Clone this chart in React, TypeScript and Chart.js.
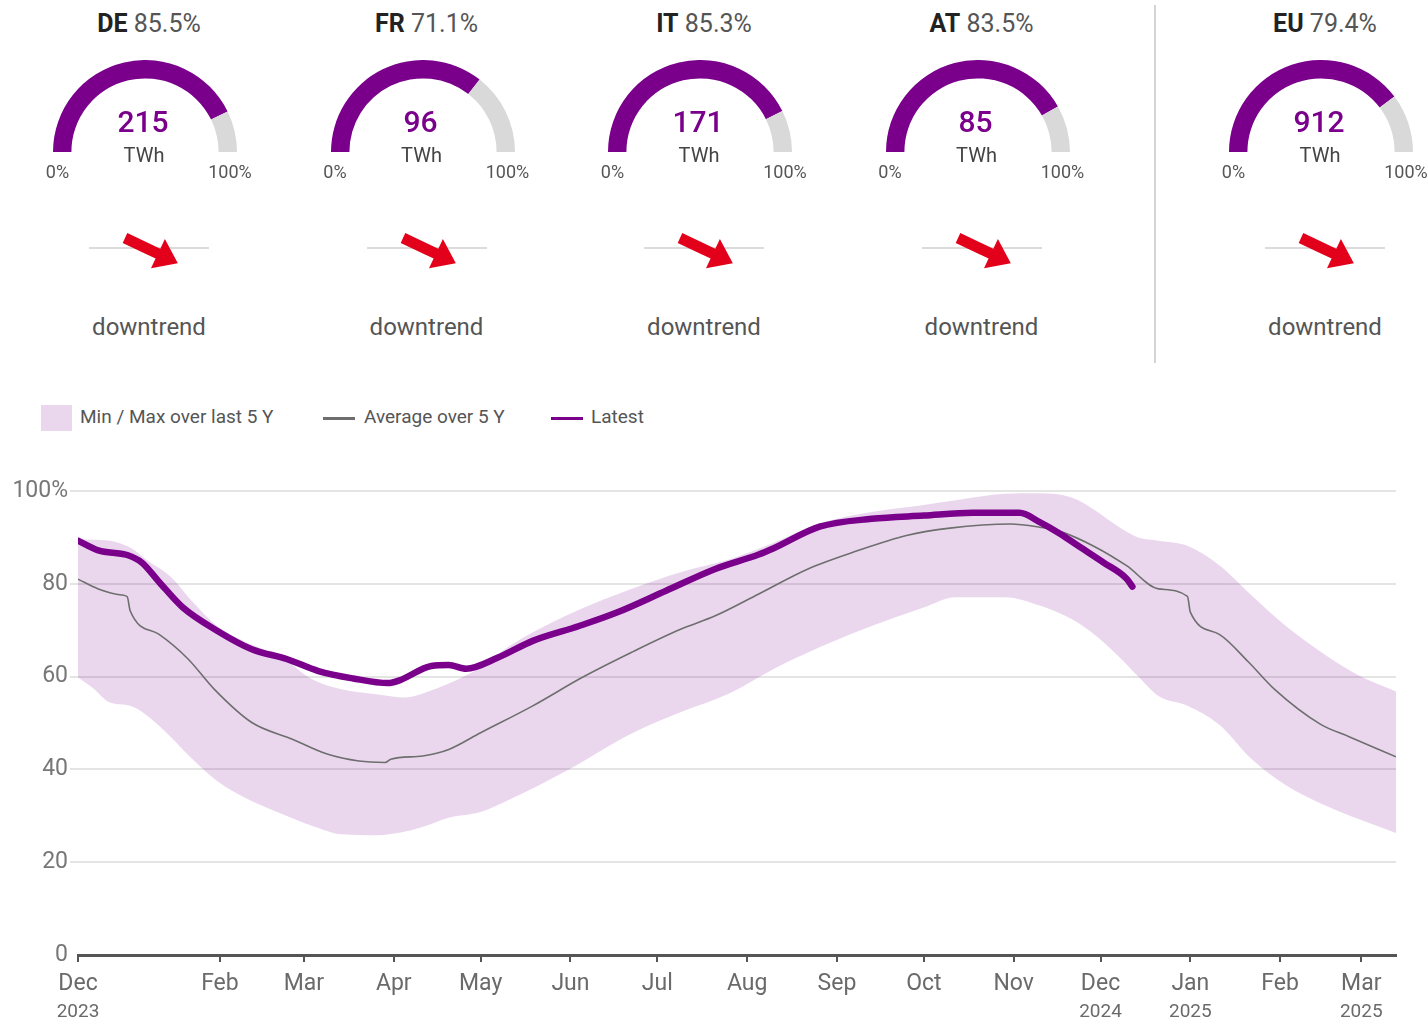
import React, { useEffect, useRef, useState } from "react";
import { Chart, registerables } from "chart.js";

Chart.register(...registerables);

const FONT = "Roboto, 'Noto Sans', Arial, sans-serif";
const PURPLE = "#7a008c";
const GAUGE_GREY = "#d9d9d9";
const BAND_FILL = "rgba(123,0,145,0.155)";
const AVG_COLOR = "#6e6e6e";

// ---------- Gauge panels ----------
const gaugeCountries = ["DE", "FR", "IT", "AT", "EU"];
const gaugeFillPct = [85.5, 71.1, 85.3, 83.5, 79.4];
const gaugeTWh = [215, 96, 171, 85, 912];
const gaugeTrend = ["downtrend", "downtrend", "downtrend", "downtrend", "downtrend"];

// ---------- Main chart data ----------
const START_DATE = "2023-12-14";
const END_DATE = "2025-03-13";

const latestDates = [
  "2023-12-14", "2023-12-21", "2023-12-31", "2024-01-05", "2024-01-11", "2024-01-19",
  "2024-01-31", "2024-02-12", "2024-02-24", "2024-03-06", "2024-03-18", "2024-03-30",
  "2024-04-03", "2024-04-14", "2024-04-20", "2024-04-26", "2024-05-07", "2024-05-19",
  "2024-06-04", "2024-06-17", "2024-07-04", "2024-07-21", "2024-08-05", "2024-08-10",
  "2024-08-26", "2024-09-13", "2024-10-01", "2024-10-18", "2024-11-03", "2024-11-10",
  "2024-11-17", "2024-11-23", "2024-12-02", "2024-12-10", "2024-12-12",
];
const latestValues = [
  89.3, 87.2, 86.2, 84.6, 80.4, 75.0,
  69.9, 65.9, 63.8, 61.2, 59.6, 58.6,
  59.2, 62.3, 62.5, 61.7, 64.1, 67.7,
  70.9, 73.8, 78.5, 83.2, 86.3, 87.6,
  92.3, 94.0, 94.7, 95.3, 95.3, 93.3,
  90.8, 88.3, 84.6, 81.1, 79.4,
];

const avgDates = [
  "2023-12-14", "2023-12-21", "2023-12-29", "2023-12-31", "2024-01-01", "2024-01-11",
  "2024-01-21", "2024-01-30", "2024-02-12", "2024-02-26", "2024-03-09", "2024-03-20",
  "2024-03-29", "2024-03-31", "2024-04-11", "2024-04-20", "2024-05-01", "2024-05-19",
  "2024-06-05", "2024-06-22", "2024-07-09", "2024-07-21", "2024-08-05", "2024-08-22",
  "2024-09-08", "2024-09-25", "2024-10-10", "2024-10-31", "2024-11-10", "2024-11-17",
  "2024-11-29", "2024-12-10", "2024-12-21", "2024-12-31", "2025-01-01", "2025-01-11",
  "2025-01-21", "2025-01-30", "2025-02-15", "2025-02-25", "2025-03-13",
];
const avgValues = [
  81.0, 78.9, 77.6, 77.2, 74.2, 69.1,
  63.8, 57.3, 50.1, 46.5, 43.3, 41.8,
  41.5, 42.2, 42.9, 44.3, 47.9, 53.7,
  59.8, 65.2, 70.2, 73.1, 77.8, 83.2,
  87.1, 90.4, 92.0, 92.9, 92.2, 91.3,
  88.0, 83.9, 78.9, 77.3, 73.9, 69.1,
  63.2, 57.3, 49.7, 47.0, 42.7,
];

const bandDates = [
  "2023-12-14", "2023-12-19", "2023-12-25", "2024-01-01", "2024-01-07", "2024-01-15",
  "2024-01-22", "2024-01-31", "2024-02-10", "2024-02-22", "2024-03-04", "2024-03-14",
  "2024-03-26", "2024-04-05", "2024-04-12", "2024-04-20", "2024-05-01", "2024-05-11",
  "2024-05-30", "2024-06-22", "2024-07-09", "2024-07-26", "2024-08-10", "2024-08-26",
  "2024-09-13", "2024-10-01", "2024-10-12", "2024-10-29", "2024-11-10", "2024-11-21",
  "2024-11-28", "2024-12-07", "2024-12-14", "2024-12-21", "2024-12-31", "2025-01-11",
  "2025-01-22", "2025-02-03", "2025-02-17", "2025-02-28", "2025-03-13",
];
const bandMax = [
  89.6, 89.5, 89.3, 87.8, 85.0, 81.5,
  76.5, 70.9, 67.4, 64.3, 59.4, 57.3,
  56.2, 55.5, 56.6, 58.5, 62.0, 66.6,
  73.0, 78.9, 82.5, 85.3, 88.8, 93.0,
  95.5, 97.0, 98.0, 99.4, 99.5, 98.6,
  96.3, 92.4, 90.0, 89.3, 88.2, 84.0,
  77.6, 70.9, 64.5, 60.3, 56.8,
];
const bandMin = [
  59.8, 57.6, 54.4, 53.7, 51.5, 47.0,
  42.5, 37.5, 33.8, 30.5, 27.8, 26.0,
  25.8, 26.6, 27.8, 29.6, 30.8, 33.5,
  39.5, 47.7, 52.3, 56.4, 61.6, 66.3,
  70.9, 74.9, 77.1, 77.1, 75.3, 72.4,
  69.5, 64.5, 60.0, 55.8, 53.7, 49.6,
  42.3, 36.6, 32.1, 29.3, 26.3,
];

const xTickDates = [
  "2023-12-14", "2024-02-01", "2024-03-01", "2024-04-01", "2024-05-01", "2024-06-01",
  "2024-07-01", "2024-08-01", "2024-09-01", "2024-10-01", "2024-11-01", "2024-12-01",
  "2025-01-01", "2025-02-01", "2025-03-01",
];
const xTickMonths = ["Dec", "Feb", "Mar", "Apr", "May", "Jun", "Jul", "Aug", "Sep", "Oct", "Nov", "Dec", "Jan", "Feb", "Mar"];
const xTickYears = ["2023", "", "", "", "", "", "", "", "", "", "", "2024", "2025", "", "2025"];
const yTicks = [0, 20, 40, 60, 80, 100];

const legendLabels = ["Min / Max over last 5 Y", "Average over 5 Y", "Latest"];

// ---------- helpers ----------
const toUTC = (s: string) => {
  const [y, m, d] = s.split("-").map(Number);
  return Date.UTC(y, m - 1, d);
};
const START_MS = toUTC(START_DATE);
const dayOf = (s: string) => Math.round((toUTC(s) - START_MS) / 86400000);
const pts = (dates: string[], vals: number[]) => dates.map((d, i) => ({ x: dayOf(d), y: vals[i] }));

// ---------- Gauge ----------
function Gauge({ cx, cy, pct }: { cx: number; cy: number; pct: number }) {
  const ref = useRef<HTMLCanvasElement>(null);
  const [err, setErr] = useState("");
  useEffect(() => {
    let chart: any = null;
    try {
      chart = new Chart(ref.current!, {
        type: "doughnut",
        data: {
          labels: ["filled", "empty"],
          datasets: [
            {
              data: [pct, 100 - pct],
              backgroundColor: [PURPLE, GAUGE_GREY],
              borderWidth: 0,
              hoverOffset: 0,
            },
          ],
        },
        options: {
          responsive: false,
          maintainAspectRatio: false,
          animation: false,
          events: [],
          rotation: -90,
          circumference: 180,
          cutout: "80%",
          plugins: { legend: { display: false }, tooltip: { enabled: false } },
        },
      });
    } catch (e: any) {
      setErr(String(e && e.message ? e.message : e));
    }
    return () => {
      if (chart) chart.destroy();
    };
  }, [pct]);
  return (
    <>
      <canvas
        ref={ref}
        width={184}
        height={92}
        style={{ position: "absolute", left: cx - 92, top: cy - 92, width: 184, height: 92 }}
      />
      {err ? (
        <div style={{ position: "absolute", left: cx - 92, top: cy - 40, fontSize: 10, color: "red", width: 180 }}>{err}</div>
      ) : null}
    </>
  );
}

function Txt({ x, top, size, children, color = "#444", weight = 400, align = "center" }: any) {
  const tr = align === "center" ? "translateX(-50%)" : align === "right" ? "translateX(-100%)" : "none";
  return (
    <div
      style={{
        position: "absolute",
        left: x,
        top,
        transform: tr,
        fontSize: size,
        lineHeight: `${size}px`,
        color,
        fontWeight: weight,
        whiteSpace: "nowrap",
        fontFamily: FONT,
      }}
    >
      {children}
    </div>
  );
}

function Arrow({ px }: { px: number }) {
  // down-right arrow, decorative
  const tx = 36, ty = 10;
  const ang = (25.5 * Math.PI) / 180;
  const ux = Math.cos(ang), uy = Math.sin(ang);
  const nx = -uy, ny = ux;
  const shape = [
    [0, -5.4], [36.5, -5.4], [36.5, -16.2], [58.5, 0], [36.5, 16.2], [36.5, 5.4], [0, 5.4],
  ];
  const p = shape.map(([u, v]) => `${(tx + u * ux + v * nx).toFixed(1)},${(ty + u * uy + v * ny).toFixed(1)}`).join(" ");
  return (
    <svg width={120} height={50} style={{ position: "absolute", left: px - 60, top: 228 }}>
      <line x1={0} y1={20} x2={120} y2={20} stroke="#cfcfcf" strokeWidth={1.5} />
      <polygon points={p} fill="#e2001a" />
    </svg>
  );
}

function Panel({ i }: { i: number }) {
  const centers = [149, 426.5, 704, 981.5, 1325];
  const px = centers[i];
  const cx = px - 4;
  const cy = 152;
  return (
    <>
      <Gauge cx={cx} cy={cy} pct={gaugeFillPct[i]} />
      <Txt x={px} top={10.5} size={25} color="#555">
        <span style={{ fontWeight: 700, color: "#222" }}>{gaugeCountries[i]}</span> {gaugeFillPct[i].toFixed(1)}%
      </Txt>
      <Txt x={cx - 2} top={106.5} size={30} color={PURPLE} weight={500}>
        {gaugeTWh[i]}
      </Txt>
      <Txt x={cx - 1} top={145} size={20} color="#444">
        TWh
      </Txt>
      <Txt x={cx - 87.5} top={163} size={18} color="#555">
        0%
      </Txt>
      <Txt x={cx + 85} top={163} size={18} color="#555">
        100%
      </Txt>
      <Arrow px={px} />
      <Txt x={px} top={314.5} size={24} color="#555">
        {gaugeTrend[i]}
      </Txt>
    </>
  );
}

function MainChart() {
  const ref = useRef<HTMLCanvasElement>(null);
  useEffect(() => {
    const tickDays = xTickDates.map(dayOf);
    const yearPlugin = {
      id: "yearLabels",
      afterDraw(chart: any) {
        const xs = chart.scales.x;
        const ctx = chart.ctx;
        ctx.save();
        ctx.font = `400 19px ${FONT}`;
        ctx.fillStyle = "#6a6a6a";
        ctx.textAlign = "center";
        ctx.textBaseline = "middle";
        xTickYears.forEach((yr, i) => {
          if (!yr) return;
          ctx.fillText(yr, xs.getPixelForValue(tickDays[i]), 572);
        });
        ctx.restore();
      },
    };
    const chart = new Chart(ref.current!, {
      type: "line",
      data: {
        datasets: [
          {
            label: "Latest",
            data: pts(latestDates, latestValues),
            borderColor: PURPLE,
            borderWidth: 6.5,
            pointRadius: 0,
            fill: false,
            cubicInterpolationMode: "monotone",
            borderCapStyle: "round",
            borderJoinStyle: "round",
          },
          {
            label: "Average",
            data: pts(avgDates, avgValues),
            borderColor: AVG_COLOR,
            borderWidth: 1.6,
            pointRadius: 0,
            fill: false,
            cubicInterpolationMode: "monotone",
          },
          {
            label: "Max",
            data: pts(bandDates, bandMax),
            borderColor: "transparent",
            borderWidth: 1,
            pointRadius: 0,
            backgroundColor: BAND_FILL,
            fill: "+1",
            cubicInterpolationMode: "monotone",
          },
          {
            label: "Min",
            data: pts(bandDates, bandMin),
            borderColor: "transparent",
            borderWidth: 1,
            pointRadius: 0,
            fill: false,
            cubicInterpolationMode: "monotone",
          },
        ],
      },
      options: {
        responsive: false,
        animation: false,
        events: [],
        layout: { padding: { top: 51, right: 32, left: 0, bottom: 0 } },
        plugins: {
          legend: { display: false },
          tooltip: { enabled: false },
          filler: { drawTime: "beforeDatasetsDraw" },
        },
        scales: {
          x: {
            type: "linear",
            min: 0,
            max: dayOf(END_DATE),
            afterBuildTicks: (s: any) => {
              s.ticks = tickDays.map((v) => ({ value: v }));
            },
            afterFit: (s: any) => {
              s.height = 66;
            },
            ticks: {
              autoSkip: false,
              maxRotation: 0,
              minRotation: 0,
              padding: 8,
              color: "#6a6a6a",
              font: { family: FONT, size: 23 },
              callback: (_v: any, i: number) => xTickMonths[i],
            },
            grid: { drawOnChartArea: false, drawTicks: true, tickLength: 7, color: "#555", lineWidth: 2 },
            border: { display: true, color: "#555", width: 3 },
          },
          y: {
            min: 0,
            max: 100,
            afterBuildTicks: (s: any) => {
              s.ticks = yTicks.map((v) => ({ value: v }));
            },
            afterFit: (s: any) => {
              s.width = 78;
            },
            ticks: {
              padding: 2,
              color: "#777",
              font: { family: FONT, size: 23 },
              callback: (v: any) => (v === 100 ? "100%" : String(v)),
            },
            grid: {
              color: (c: any) => (c.tick && c.tick.value === 0 ? "rgba(0,0,0,0)" : "#e4e4e4"),
              lineWidth: 2,
              tickLength: 8,
              drawTicks: true,
            },
            border: { display: false },
          },
        },
      },
      plugins: [yearPlugin],
    });
    return () => chart.destroy();
  }, []);
  return (
    <canvas
      ref={ref}
      width={1428}
      height={581}
      style={{ position: "absolute", left: 0, top: 440, width: 1428, height: 581 }}
    />
  );
}

function Legend() {
  return (
    <>
      <div style={{ position: "absolute", left: 41, top: 405, width: 31, height: 26, background: BAND_FILL }} />
      <Txt x={80} top={407} size={19} color="#555" align="left">
        {legendLabels[0]}
      </Txt>
      <div style={{ position: "absolute", left: 323, top: 416.5, width: 32, height: 3, background: AVG_COLOR }} />
      <Txt x={364} top={407} size={19} color="#555" align="left">
        {legendLabels[1]}
      </Txt>
      <div style={{ position: "absolute", left: 551, top: 416.5, width: 32, height: 3, background: PURPLE }} />
      <Txt x={591} top={407} size={19} color="#555" align="left">
        {legendLabels[2]}
      </Txt>
    </>
  );
}

export default function App() {
  Chart.defaults.font.family = FONT;
  return (
    <div
      style={{
        position: "absolute",
        left: 0,
        top: 0,
        width: 1428,
        height: 1021,
        overflow: "hidden",
        background: "#fff",
        fontFamily: FONT,
      }}
    >
      {gaugeCountries.map((_, i) => (
        <Panel key={i} i={i} />
      ))}
      <div style={{ position: "absolute", left: 1154, top: 5, width: 2, height: 358, background: "#d4d4d4" }} />
      <Legend />
      <MainChart />
    </div>
  );
}
